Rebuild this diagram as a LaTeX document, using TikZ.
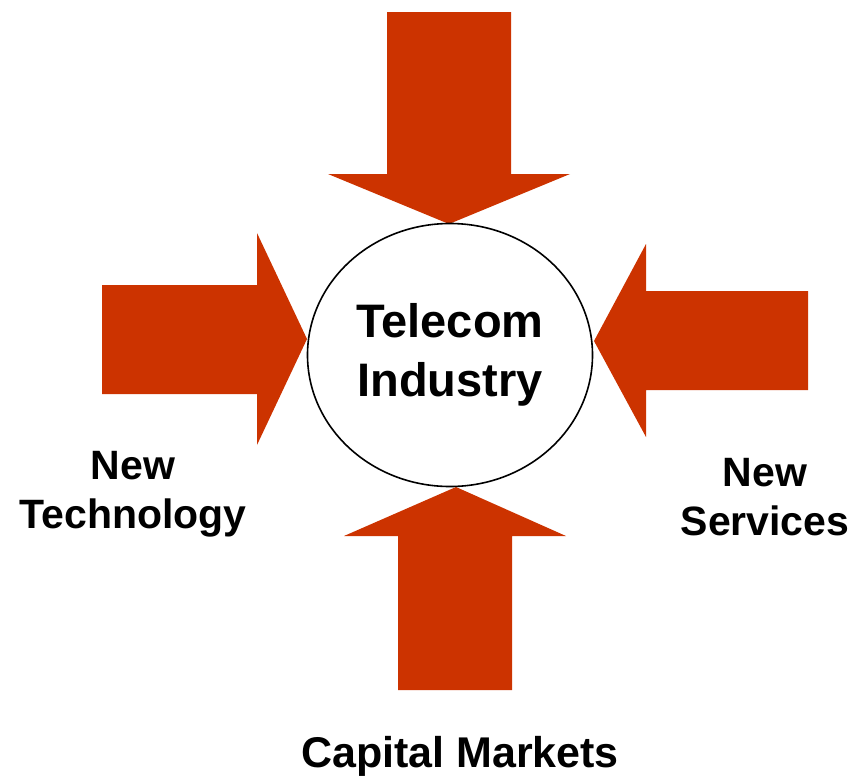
\documentclass[tikz,border=0pt]{standalone}
\usepackage{fontspec}
\setmainfont{Liberation Sans}
\usepackage{tikz}
\usetikzlibrary{shapes.geometric}
\definecolor{telered}{RGB}{204,51,0}

\begin{document}
\begin{tikzpicture}[x=1pt,y=-1pt,
		arrowfill/.style={fill=telered},
		label/.style={inner sep=0pt,align=center,font=\bfseries\fontsize{41}{49}\selectfont}]
		\useasboundingbox (0,0) rectangle (857,782);
		% the four arrows
		\fill[arrowfill] (387,12) -- (511,12) -- (511,174) -- (570,174) -- (449,224) -- (328,174) -- (387,174) -- cycle;
		\fill[arrowfill] (102,285) -- (257,285) -- (257,233) -- (307,339) -- (257,445) -- (257,394) -- (102,394) -- cycle;
		\fill[arrowfill] (808,291) -- (646,291) -- (646,244) -- (594,341) -- (646,437) -- (646,390) -- (808,390) -- cycle;
		\fill[arrowfill] (398,690) -- (398,536) -- (344,536) -- (456,487) -- (566,536) -- (512,536) -- (512,690) -- cycle;
		% centre
		\node[ellipse,draw,line width=1.6pt,minimum width=285pt,minimum height=263pt,inner sep=0pt,align=center,
		      font=\bfseries\fontsize{47}{59}\selectfont] (tel) at (450,355) {Telecom\\Industry};
		% labels
		\node[label] (tech) at (133,494) {New\\Technology};
		\node[label] (serv) at (765,497) {New\\Services};
		\node[label,anchor=base,font=\bfseries\fontsize{43}{50}\selectfont] (cap) at (460,767) {Capital Markets};
\end{tikzpicture}
\end{document}
